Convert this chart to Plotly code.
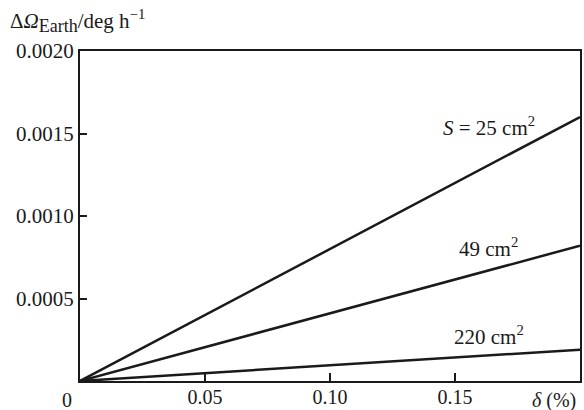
import plotly.graph_objects as go

# Data
delta = [0.0, 0.2]                      # δ (%)
areas = ["25", "49", "220"]             # S in cm²
omega_end = [0.0016, 0.00082, 0.00019]  # ΔΩ at δ = 0.2
label_text = ["<i>S</i> = 25 cm<sup>2</sup>", "49 cm<sup>2</sup>", "220 cm<sup>2</sup>"]
label_x = [0.1635, 0.1635, 0.1635]
label_y = [0.00154, 0.000807, 0.000277]

x_tickvals = [0.05, 0.10, 0.15]
x_ticktext = ["0.05", "0.10", "0.15"]
y_tickvals = [0.0005, 0.0010, 0.0015, 0.0020]
y_ticktext = ["0.0005", "0.0010", "0.0015", "0.0020"]

FONT = "'Liberation Serif', 'Times New Roman', Times, serif"
FS = 21
INK = "#1a1a1a"

fig = go.Figure()
for a, w in zip(areas, omega_end):
    fig.add_trace(go.Scatter(x=delta, y=[0.0, w], mode="lines",
                             line=dict(color=INK, width=2.5),
                             name=a, showlegend=False, hoverinfo="skip"))

for t, lx, ly in zip(label_text, label_x, label_y):
    fig.add_annotation(x=lx, y=ly, text=t, showarrow=False,
                       xref="x", yref="y", font=dict(size=FS, color=INK, family=FONT))

fig.add_annotation(x=0, y=0, xref="paper", yref="paper", text="0", showarrow=False,
                   xanchor="center", yanchor="top", xshift=-13, yshift=-6,
                   font=dict(size=20, color=INK, family=FONT))
fig.add_annotation(x=1, y=0, xref="paper", yref="paper", text="<i>δ</i> (%)", showarrow=False,
                   xanchor="right", yanchor="top", xshift=-2, yshift=-6,
                   font=dict(size=20, color=INK, family=FONT))
fig.add_annotation(x=0, y=1, xref="paper", yref="paper",
                   text="Δ<i>Ω</i><sub><span style='font-size:18px'>Earth</span></sub>/deg h<sup>−1</sup>",
                   showarrow=False,
                   xanchor="left", yanchor="bottom", xshift=-72, yshift=13,
                   font=dict(size=21, color=INK, family=FONT))

axis_common = dict(showline=True, mirror=True, linecolor=INK, linewidth=2,
                   showgrid=False, zeroline=False, ticks="inside", tickcolor=INK,
                   tickwidth=1.5, automargin=False)

fig.update_xaxes(range=[0, 0.2], tickvals=x_tickvals, ticktext=x_ticktext, ticklen=8,
                 ticklabelstandoff=-3,
                 tickfont=dict(size=20, color=INK, family=FONT), **axis_common)
fig.update_yaxes(range=[0, 0.002], tickvals=y_tickvals, ticktext=y_ticktext, ticklen=7,
                 tickfont=dict(size=FS, color=INK, family=FONT), **axis_common)

fig.update_layout(width=584, height=410, margin=dict(l=80, r=4, t=51, b=29),
                  plot_bgcolor="white", paper_bgcolor="white",
                  font=dict(family=FONT, color=INK))

fig.write_html("out.html", config={"displayModeBar": False},
               post_script="document.body.style.margin='0';document.body.style.overflow='hidden';")
